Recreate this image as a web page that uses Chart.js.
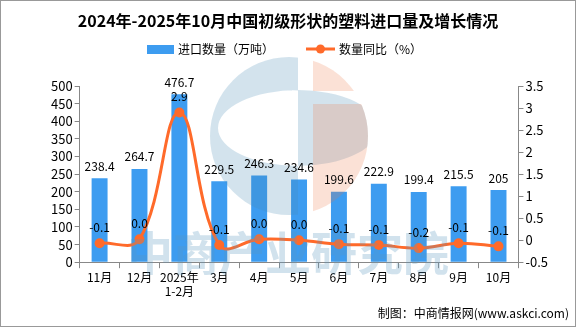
<!DOCTYPE html>
<html>
<head>
<meta charset="utf-8">
<script src="https://cdn.jsdelivr.net/npm/chart.js@4"></script>
<style>
  html, body { margin: 0; padding: 0; background: #fff; }
  #wrap { position: relative; width: 574px; height: 325px; border: 1px solid #999; }
</style>
</head>
<body>
<div id="wrap"><canvas id="chart" width="574" height="325"></canvas></div>
<script>
// Data
const months = ['11月', '12月', ['2025年', '1-2月'], '3月', '4月', '5月', '6月', '7月', '8月', '9月', '10月'];
const importVolume = [238.4, 264.7, 476.7, 229.5, 246.3, 234.6, 199.6, 222.9, 199.4, 215.5, 205];
const volumeGrowth = [-0.07, 0.02, 2.9, -0.11, 0.02, 0.0, -0.09, -0.11, -0.18, -0.07, -0.14];

const barColor = '#3d9cf0';
const lineColor = '#ff6a2a';
const fontFamily = "'Noto Sans CJK SC', 'DejaVu Sans', sans-serif";

// Labels on top of the bars and above the line points
const valueLabels = {
    id: 'valueLabels',
    afterDatasetsDraw(chart) {
        const ctx = chart.ctx;
        ctx.save();
        ctx.font = '12px ' + fontFamily;
        ctx.fillStyle = '#000';
        ctx.textAlign = 'center';
        ctx.textBaseline = 'bottom';
        chart.getDatasetMeta(0).data.forEach((bar, i) => {
            ctx.fillText(String(importVolume[i]), bar.x, bar.y - 6);
        });
        chart.getDatasetMeta(1).data.forEach((pt, i) => {
            const v = volumeGrowth[i];
            const txt = Math.abs(v) < 0.05 ? '0.0' : v.toFixed(1);
            ctx.fillText(txt, pt.x, pt.y - 10);
        });
        ctx.restore();
    }
};

// Title, legend, watermark and source note
const decorations = {
    id: 'decorations',
    afterDatasetsDraw(chart) {
        const ctx = chart.ctx;
        // faint logo circle
        ctx.save();
        ctx.beginPath();
        ctx.arc(288, 135, 79, 0, Math.PI * 2);
        ctx.clip();
        ctx.beginPath();
        ctx.rect(200, 50, 97, 170);
        ctx.ellipse(297, 127, 80, 38, 0, 0, Math.PI * 2);
        ctx.fillStyle = 'rgba(70, 140, 180, 0.24)';
        ctx.fill('evenodd');
        ctx.beginPath();
        ctx.rect(312, 50, 60, 40);
        ctx.rect(312, 103, 60, 120);
        ctx.fillStyle = 'rgba(235, 120, 70, 0.22)';
        ctx.fill();
        ctx.restore();

        ctx.save();
        ctx.font = 'bold 46px ' + fontFamily;
        ctx.fillStyle = 'rgba(90, 150, 190, 0.28)';
        ctx.textAlign = 'center';
        ctx.textBaseline = 'middle';
        ctx.fillText('中商产业研究院', 287, 252);
        ctx.restore();
    },
    afterDraw(chart) {
        const ctx = chart.ctx;
        ctx.save();
        ctx.fillStyle = '#000';
        ctx.textBaseline = 'middle';
        ctx.textAlign = 'center';
        ctx.font = 'bold 16px ' + fontFamily;
        ctx.fillText('2024年-2025年10月中国初级形状的塑料进口量及增长情况', 287, 20);

        // legend
        ctx.font = '12px ' + fontFamily;
        ctx.textAlign = 'left';
        ctx.fillStyle = barColor;
        ctx.fillRect(146, 44, 27, 9);
        ctx.fillStyle = '#000';
        ctx.fillText('进口数量（万吨）', 177, 48);
        ctx.strokeStyle = lineColor;
        ctx.lineWidth = 3;
        ctx.beginPath();
        ctx.moveTo(305, 48);
        ctx.lineTo(334, 48);
        ctx.stroke();
        ctx.fillStyle = lineColor;
        ctx.beginPath();
        ctx.arc(319.5, 48, 4.5, 0, Math.PI * 2);
        ctx.fill();
        ctx.fillStyle = '#000';
        ctx.fillText('数量同比（%）', 338, 48);

        ctx.textAlign = 'right';
        ctx.fillText('制图：中商情报网(www.askci.com)', 568, 312);
        ctx.restore();
    }
};

new Chart(document.getElementById('chart'), {
    data: {
        labels: months,
        datasets: [
            {
                type: 'bar',
                label: '进口数量（万吨）',
                data: importVolume,
                backgroundColor: barColor,
                yAxisID: 'y',
                barPercentage: 0.4,
                categoryPercentage: 1.0,
                order: 2
            },
            {
                type: 'line',
                label: '数量同比（%）',
                data: volumeGrowth,
                borderColor: lineColor,
                backgroundColor: lineColor,
                borderWidth: 3,
                pointRadius: 5,
                pointBackgroundColor: lineColor,
                pointBorderWidth: 0,
                tension: 0.4,
                yAxisID: 'y1',
                order: 1
            }
        ]
    },
    options: {
        responsive: false,
        animation: false,
        layout: { padding: { left: 48, right: 25, top: 85, bottom: 25 } },
        plugins: {
            title: { display: false },
            legend: { display: false },
            tooltip: { enabled: false }
        },
        scales: {
            x: {
                offset: true,
                grid: { display: true, drawOnChartArea: false, drawTicks: true, tickLength: 6, color: '#888', offset: true },
                border: { display: true, color: '#888' },
                ticks: { color: '#000', font: { family: fontFamily, size: 12 }, maxRotation: 0, autoSkip: false, padding: 2 }
            },
            y: {
                position: 'left',
                min: 0,
                max: 500,
                ticks: { stepSize: 50, autoSkip: false, color: '#000', font: { family: fontFamily, size: 13 }, padding: 2 },
                grid: { display: true, drawOnChartArea: false, drawTicks: true, tickLength: 5, color: '#888' },
                border: { display: true, color: '#888' }
            },
            y1: {
                position: 'right',
                min: -0.5,
                max: 3.5,
                ticks: {
                    stepSize: 0.5,
                    autoSkip: false,
                    color: '#000',
                    font: { family: fontFamily, size: 13 },
                    padding: 2,
                    callback: v => String(v)
                },
                grid: { display: true, drawOnChartArea: false, drawTicks: true, tickLength: 5, color: '#888' },
                border: { display: true, color: '#888' }
            }
        }
    },
    plugins: [decorations, valueLabels]
});
</script>
</body>
</html>
